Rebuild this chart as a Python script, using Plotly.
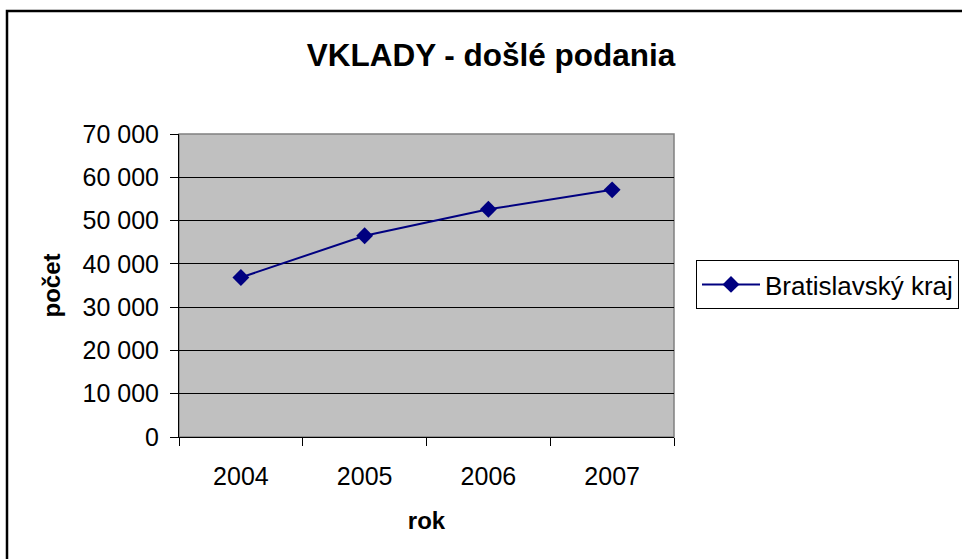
import plotly.graph_objects as go

years = ['2004', '2005', '2006', '2007']
bratislava = [36850, 46500, 52600, 57100]
series_name = 'Bratislavský kraj'

W, H = 962, 559
L, R, T, B = 179, 674, 134, 437  # plot area in pixels


def px_x(p):
    return (p - L) / (R - L)


def px_y(p):
    return (B - p) / (B - T)


font = 'Liberation Sans, Arial, sans-serif'

fig = go.Figure(go.Scatter(
    x=years,
    y=bratislava,
    name=series_name,
    mode='lines+markers',
    line=dict(color='#000080', width=2),
    marker=dict(symbol='diamond', size=13, color='#000080'),
))

fig.update_layout(
    width=W,
    height=H,
    margin=dict(l=L, r=W - R, t=T, b=H - B, pad=0),
    paper_bgcolor='white',
    plot_bgcolor='#C0C0C0',
    separators=', ',
    font=dict(family=font, color='black', size=25),
    title=dict(
        text='VKLADY - došlé podania',
        font=dict(family=font, size=31.5, weight='bold', color='black'),
        x=491 / W, xanchor='center', xref='container',
        y=1 - 55 / H, yanchor='middle', yref='container',
    ),
    showlegend=True,
    legend=dict(
        xref='container', x=696 / W, xanchor='left',
        yref='container', y=1 - 284.5 / H, yanchor='middle',
        bgcolor='white',
        bordercolor='black',
        borderwidth=1,
        font=dict(family=font, size=26, color='black'),
        itemwidth=58,
    ),
    shapes=[
        dict(type='rect', xref='paper', yref='paper', x0=0, x1=1, y0=0, y1=1,
             line=dict(color='#808080', width=1.5), layer='below'),
        dict(type='rect', xref='paper', yref='paper',
             x0=px_x(7), x1=px_x(980), y0=px_y(11), y1=px_y(580),
             line=dict(color='black', width=2.5)),
    ],
)

fig.update_xaxes(
    type='category',
    range=[-0.5, 3.5],
    tickson='boundaries',
    ticks='outside',
    ticklen=8,
    tickcolor='black',
    showline=True,
    linecolor='black',
    linewidth=1,
    showgrid=False,
    tickfont=dict(size=25),
    ticklabelstandoff=17,
    title=dict(text='rok', font=dict(size=24, weight='bold'), standoff=23),
)

fig.update_yaxes(
    range=[0, 70000],
    dtick=10000,
    tickformat=',d',
    ticks='outside',
    ticklen=8,
    tickcolor='black',
    showline=True,
    linecolor='black',
    linewidth=1,
    showgrid=True,
    gridcolor='black',
    gridwidth=1,
    zeroline=False,
    tickfont=dict(size=25),
    ticklabelstandoff=6,
    title=dict(text='počet', font=dict(size=24, weight='bold'), standoff=15),
)

fig.write_html('out.html', config={'displayModeBar': False},
               post_script="document.body.style.margin='0';")
